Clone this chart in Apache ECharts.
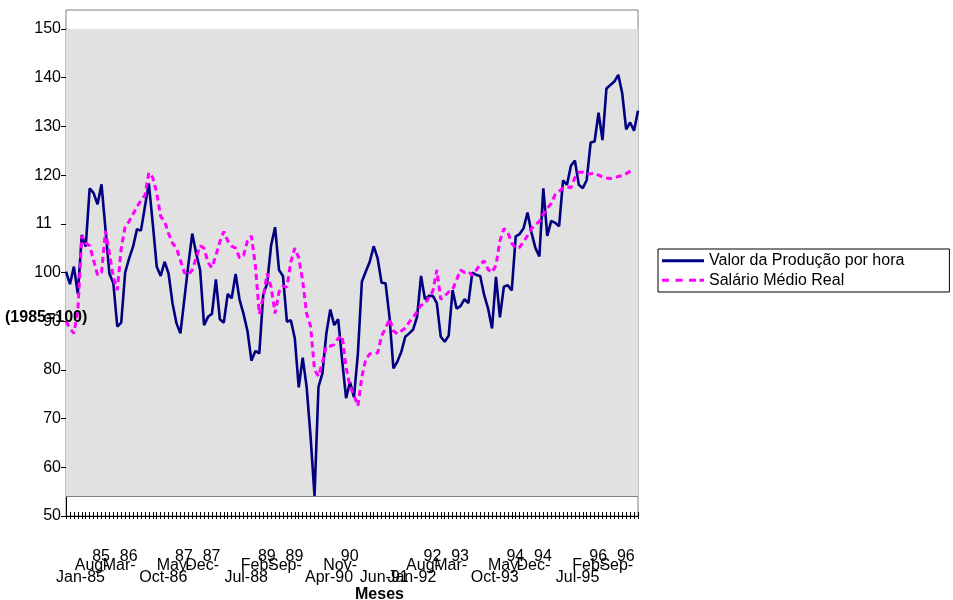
<!DOCTYPE html>
<html>
<head>
<meta charset="utf-8">
<script src="https://cdn.jsdelivr.net/npm/echarts@6/dist/echarts.min.js"></script>
<style>
  html, body { margin: 0; padding: 0; background: #fff; }
  #chart { width: 953px; height: 600px; }
</style>
</head>
<body>
<div id="chart"></div>
<script>
// Monthly categories, Jan-85 .. Feb-97
const monthNames = ['Jan','Feb','Mar','Apr','May','Jun','Jul','Aug','Sep','Oct','Nov','Dec'];
const yearCodes = ['85','86','87','88','89','90','91','92','93','94','95','96','97'];
const months = [];
yearCodes.forEach(y => monthNames.forEach(m => months.push(m + '-' + y)));
months.length = 146;

// Tick labels shown on the category axis (every 7th month)
const lowerLabels = ['Jan-85','Oct-86','Jul-88','Apr-90','Jun-91','Jan-92','Oct-93','Jul-95'];
// labels broken over two lines, in two alternating sets so neighbours never collide
const wrappedLabelsA = ['Aug-85','May-87','Feb-89','Nov-90','Aug-92','May-94','Feb-96'];
const wrappedLabelsB = ['Mar-86','Dec-87','Sep-89','Mar-93','Dec-94','Sep-96'];

// Valor da Produção por hora (1985=100)
const valorProducao = [
  100.2, 97.6, 101.2, 95.6, 107.7, 105.3, 117.3, 116.3, 114.0, 118.1, 109.0, 99.8,
  97.8, 88.9, 89.7, 100.0, 102.9, 105.3, 108.9, 108.6, 113.5, 118.3, 110.0, 101.2,
  99.3, 102.2, 99.8, 93.7, 89.6, 87.5, 94.5, 101.5, 108.0, 103.9, 100.5, 89.2,
  90.9, 91.5, 98.6, 90.4, 89.7, 95.6, 94.7, 99.7, 94.4, 91.5, 88.0, 81.9,
  83.9, 83.4, 95.4, 97.8, 105.6, 109.3, 100.5, 99.3, 89.9, 90.2, 86.5, 76.4,
  82.5, 76.5, 66.3, 54.1, 76.5, 79.3, 87.5, 92.4, 89.2, 90.4, 82.0, 74.2,
  77.5, 74.4, 83.4, 98.1, 100.2, 102.2, 105.4, 102.9, 97.9, 97.8, 90.9, 80.3,
  81.7, 83.7, 86.8, 87.5, 88.3, 90.9, 99.3, 94.5, 95.2, 95.2, 93.7, 86.8,
  85.8, 87.0, 96.4, 92.6, 93.1, 94.5, 93.7, 100.0, 99.5, 99.3, 95.4, 92.6,
  88.5, 99.1, 90.8, 97.1, 97.4, 96.3, 107.4, 107.9, 109.1, 112.3, 108.2, 105.0,
  103.3, 117.3, 107.5, 110.6, 110.2, 109.5, 118.9, 118.0, 121.9, 123.0, 118.0, 117.3,
  119.0, 126.7, 126.9, 132.8, 127.2, 137.8, 138.5, 139.2, 140.6, 136.8, 129.4, 130.8,
  129.1, 133.2
];

// Salário Médio Real (1985=100)
const salarioMedio = [
  90.0, 88.5, 87.5, 92.0, 107.5, 106.0, 105.5, 102.5, 99.5, 100.0, 108.5, 104.0,
  99.0, 96.4, 105.0, 109.4, 110.5, 112.0, 113.5, 114.8, 115.8, 120.5, 119.5, 116.3,
  111.5, 110.5, 108.0, 106.0, 105.0, 102.5, 100.0, 99.5, 100.5, 103.0, 105.5, 105.0,
  102.0, 101.0, 103.5, 106.3, 108.4, 106.5, 105.4, 105.0, 103.0, 103.5, 106.5, 107.5,
  101.5, 91.5, 95.0, 99.8, 97.0, 91.6, 96.0, 97.2, 97.0, 102.2, 105.0, 103.0,
  98.3, 91.5, 89.0, 80.0, 78.7, 81.5, 84.9, 84.9, 85.2, 86.5, 87.0, 80.5,
  76.6, 74.8, 72.6, 78.6, 82.2, 83.3, 83.3, 83.5, 87.0, 88.5, 90.5, 88.0,
  87.4, 88.0, 88.6, 89.8, 90.8, 91.9, 93.3, 93.5, 94.9, 96.2, 100.5, 94.5,
  95.2, 96.0, 96.5, 98.5, 100.5, 100.0, 100.2, 99.4, 100.5, 101.7, 102.4, 100.6,
  100.0, 101.5, 106.5, 109.0, 108.3, 106.0, 105.0, 105.2, 106.3, 107.6, 109.0, 109.8,
  110.5, 112.0, 113.2, 114.2, 116.0, 116.7, 117.3, 117.6, 117.4, 119.5, 120.6, 120.6,
  120.2, 120.3, 120.4, 120.0, 119.6, 119.4, 119.3, 119.5, 119.7, 119.9, 120.3, 120.8,
  121.2, null
];

const FONT = '"Liberation Sans", Arial, sans-serif';
const GRID = { left: 66, right: 315, top: 29, bottom: 84 };
const W = 953, H = 600;
const plotFloor = Math.min(...valorProducao);   // shaded band sits on the series minimum

const NAVY = '#000080', MAGENTA = '#ff00ff';

const txt = { fontFamily: FONT, fontSize: 16, color: '#000', lineHeight: 16 };

const chart = echarts.init(document.getElementById('chart'), null, { renderer: 'canvas' });

// A bottom category axis that only carries labels
function labelAxis(labelSet, margin, format, pad) {
  const shown = new Set(labelSet);
  return {
    type: 'category',
    data: months,
    boundaryGap: false,
    position: 'bottom',
    splitLine: { show: false },
    axisLine: { show: false },
    axisTick: { show: false },
    axisLabel: {
      interval: (i, v) => shown.has(v),
      showMinLabel: true,
      showMaxLabel: true,
      hideOverlap: false,
      margin: margin,
      formatter: v => '{s|' + format(v) + '}',
      rich: { s: Object.assign({ padding: pad }, txt) }
    }
  };
}

const monthPart = v => v.slice(0, 4);   // "Aug-"
const yearPart = v => v.slice(4);       // "85"

// main axis: line, outward ticks and single-line labels
const mainAxis = labelAxis(lowerLabels, 54, v => v, [0, 0, 0, 29]);
mainAxis.axisLine = { show: true, lineStyle: { color: '#000', width: 1 } };
mainAxis.axisTick = { show: true, interval: 0, length: 3, lineStyle: { color: '#000' } };

// second half of the cross tick marks (pointing into the plot)
const innerTicks = labelAxis([], 0, v => v, [0]);
innerTicks.axisLabel.show = false;
innerTicks.axisTick = { show: true, inside: true, interval: 0, length: 4, lineStyle: { color: '#000' } };

chart.setOption({
  backgroundColor: '#fff',
  animation: false,
  grid: { left: GRID.left, right: GRID.right, top: GRID.top, bottom: GRID.bottom, containLabel: false },
  legend: {
    orient: 'vertical',
    left: 658,
    top: 249,
    padding: [2, 45, 2, 4],
    itemWidth: 42,
    itemHeight: 3,
    itemGap: 0,
    backgroundColor: '#fff',
    borderColor: '#000',
    borderWidth: 1,
    borderRadius: 0,
    textStyle: { fontFamily: FONT, fontSize: 16, color: '#000', lineHeight: 19.5 },
    data: [
      { name: 'Valor da Produção por hora',
        icon: 'path://M0,0H42V3H0Z',
        itemStyle: { color: NAVY } },
      { name: 'Salário Médio Real',
        icon: 'path://M0,0H7V3H0Z M13.5,0H20.5V3H13.5Z M27,0H34V3H27Z M37.5,0H42V3H37.5Z',
        itemStyle: { color: MAGENTA } }
    ]
  },
  xAxis: [
    mainAxis,
    innerTicks,
    labelAxis(wrappedLabelsA, 42, monthPart, [0, 4, 0, 0]),
    labelAxis(wrappedLabelsA, 33, yearPart, [0, 0, 0, 15]),
    labelAxis(wrappedLabelsB, 42, monthPart, [0, 4, 0, 0]),
    labelAxis(wrappedLabelsB, 33, yearPart, [0, 0, 0, 15])
  ],
  yAxis: {
    type: 'value',
    min: 50,
    max: 150,
    interval: 10,
    axisLine: { show: true, lineStyle: { color: '#000', width: 1 } },
    axisTick: { show: true, length: 5, lineStyle: { color: '#000' } },
    splitLine: { show: false },
    axisLabel: {
      margin: 5,
      fontFamily: FONT, fontSize: 16, color: '#000',
      formatter: v => v === 110 ? '{t|11}' : String(v),
      rich: { t: Object.assign({ padding: [0, 9, 0, 0] }, txt) }
    }
  },
  series: [
    {
      name: 'Valor da Produção por hora',
      type: 'line',
      data: valorProducao,
      symbol: 'none',
      lineStyle: { color: NAVY, width: 2.6 },
      itemStyle: { color: NAVY },
      z: 3,
      markArea: {
        silent: true,
        itemStyle: { color: '#e1e1e1', borderWidth: 0 },
        data: [[{ yAxis: plotFloor }, { yAxis: 150 }]]
      },
      markLine: {
        silent: true,
        symbol: 'none',
        label: { show: false },
        lineStyle: { color: '#808080', width: 1, type: 'solid' },
        data: [{ yAxis: plotFloor }]
      }
    },
    {
      name: 'Salário Médio Real',
      type: 'line',
      data: salarioMedio,
      symbol: 'none',
      lineStyle: { color: MAGENTA, width: 3, type: [6, 4] },
      itemStyle: { color: MAGENTA },
      z: 4
    }
  ],
  graphic: [
    {
      type: 'rect',
      silent: true,
      z: 0,
      shape: { x: GRID.left, y: 10, width: W - GRID.left - GRID.right, height: H - GRID.bottom - 10 },
      style: { fill: 'none', stroke: '#808080', lineWidth: 1 }
    },
    {
      type: 'text',
      left: 5,
      top: 310,
      z: 100,
      style: { text: '(1985=100)', font: 'bold 16px ' + FONT, fill: '#000' }
    },
    {
      type: 'text',
      left: 355,
      top: 587,
      z: 100,
      style: { text: 'Meses', font: 'bold 16px ' + FONT, fill: '#000' }
    }
  ]
});
</script>
</body>
</html>
